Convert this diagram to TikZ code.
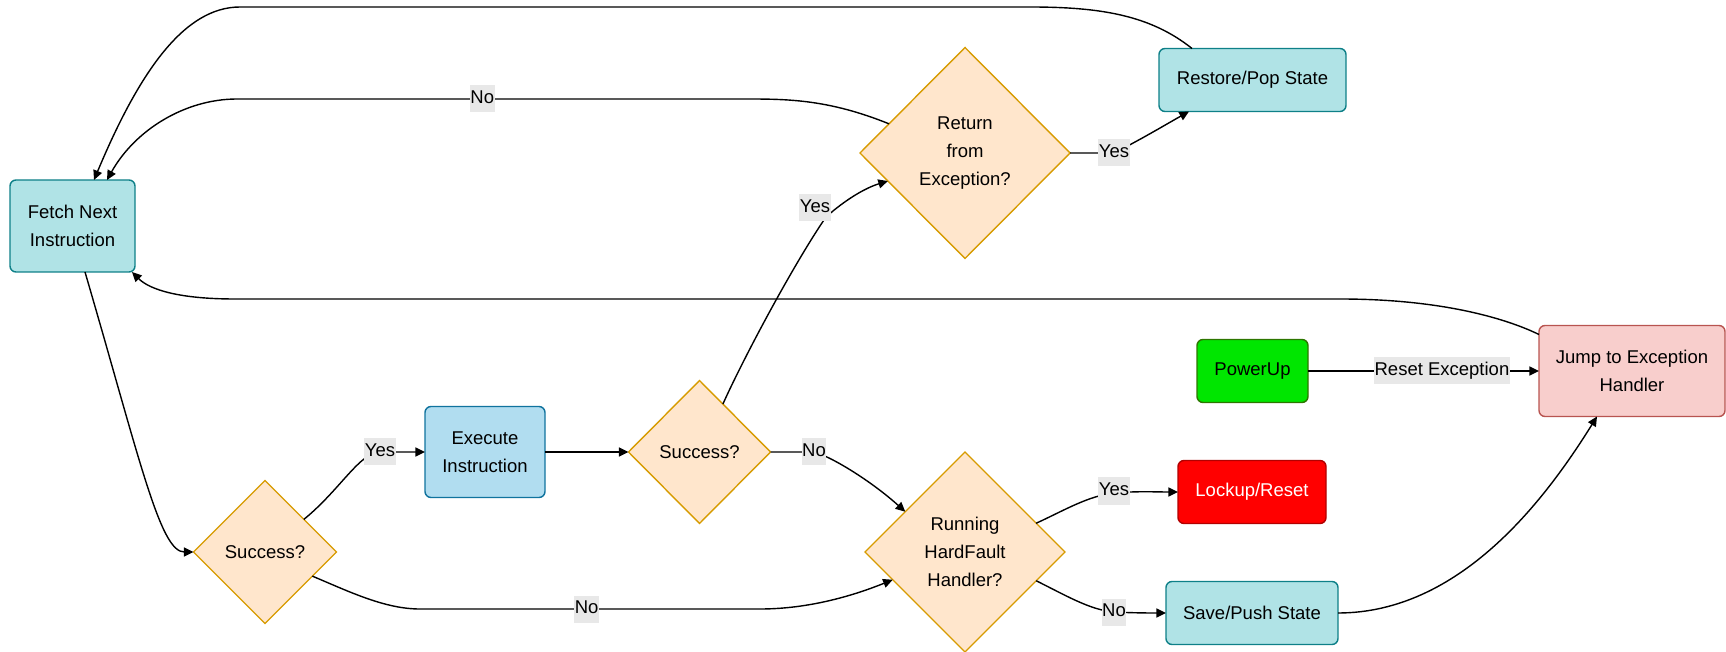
\documentclass[tikz,border=0pt]{standalone}
\usepackage{fontspec}
\setmainfont{Liberation Sans}
\usetikzlibrary{arrows.meta,shapes.geometric,calc}
\definecolor{tealF}{HTML}{B0E3E6}\definecolor{tealS}{HTML}{0E8088}
\definecolor{blueF}{HTML}{B1DDF0}\definecolor{blueS}{HTML}{10739E}
\definecolor{orgF}{HTML}{FFE6CC}\definecolor{orgS}{HTML}{D79B00}
\definecolor{grnF}{HTML}{00E600}\definecolor{grnS}{HTML}{2D7600}
\definecolor{redF}{HTML}{FF0000}\definecolor{redS}{HTML}{B20000}
\definecolor{pinkF}{HTML}{F8CECC}\definecolor{pinkS}{HTML}{B85450}
\definecolor{lblbg}{HTML}{E8E8E8}
\tikzset{
  base/.style={font=\fontsize{9.25}{14}\selectfont, align=center, inner sep=0pt, outer sep=0pt, line width=0.7pt},
  box/.style={base, draw, rounded corners=3pt},
  tealbox/.style={box, fill=tealF, draw=tealS},
  bluebox/.style={box, fill=blueF, draw=blueS},
  greenbox/.style={box, fill=grnF, draw=grnS},
  redbox/.style={box, fill=redF, draw=redS, text=white},
  pinkbox/.style={box, fill=pinkF, draw=pinkS},
  decision/.style={base, diamond, draw=orgS, fill=orgF},
  conn/.style={line width=0.7pt, draw=black},
  arr/.style={conn, -{Triangle[length=4.8pt,width=4.5pt]}},
  lbl/.style={font=\fontsize{9.25}{14}\selectfont, fill=lblbg, inner xsep=0.3pt, inner ysep=0pt, text height=9pt, text depth=4.5pt, outer sep=0pt}
}
\begin{document}
\begin{tikzpicture}[x=0.5pt,y=-0.5pt]
\useasboundingbox (0,0) rectangle (1726,652);
% nodes
\node[tealbox, minimum width=62.5pt, minimum height=46pt] (fetch) at (72.5,226) {Fetch Next\\Instruction};
\node[tealbox, minimum width=93.5pt, minimum height=31.5pt] (rs) at (1252.5,80) {Restore/Pop State};
\node[decision, minimum width=105pt, minimum height=105.5pt] (ret) at (965,153) {Return\\from\\Exception?};
\node[bluebox, minimum width=60pt, minimum height=45.5pt] (ex) at (485,452) {Execute\\Instruction};
\node[decision, minimum width=71pt, minimum height=71.5pt] (s2) at (699.5,452) {Success?};
\node[decision, minimum width=71.5pt, minimum height=71.5pt] (s1) at (265,552) {Success?};
\node[greenbox, minimum width=55.5pt, minimum height=31.5pt] (pu) at (1252.5,371) {PowerUp};
\node[pinkbox, minimum width=93pt, minimum height=45.5pt] (jump) at (1632,371) {Jump to Exception\\Handler};
\node[redbox, minimum width=74pt, minimum height=31.5pt] (lock) at (1252,492) {Lockup/Reset};
\node[tealbox, minimum width=86pt, minimum height=31.5pt] (save) at (1252,613) {Save/Push State};
\node[decision, minimum width=100pt, minimum height=100pt] (run) at (965,552) {Running\\HardFault\\Handler?};
% connectors
\draw[arr] ($(rs.north west)+(33,0)$) .. controls (1150,15) and (1100,7) .. (1030,7) -- (240,7) .. controls (185,7) and (140,70) .. ($(fetch.north west)+(84,0)$);
\draw[arr] (ret.159) .. controls (830,100) and (790,99) .. (748,99) -- node[lbl,pos=0.52] (lno1) {No} (237,99) .. controls (185,99) and (135,130) .. ($(fetch.north west)+(97,0)$);
\draw[arr] ($(fetch.south west)+(75,0)$) .. controls (140,460) and (160,552) .. (s1.west);
\draw[arr] (s1.40) .. controls (340,490) and (360,452) .. (380,452) node[lbl] (lyes1) {Yes} -- (ex.west);
\draw[arr] (ex.east) -- (s2.west);
\draw[arr] (s2.64) .. controls (745,355) and (795,262) .. (826,217) node[lbl,xshift=-5.5pt,yshift=4.5pt] (lyes2) {Yes} .. controls (845,200) and (865,188) .. (ret.200);
\draw[arr] (s2.east) .. controls (785,452) and (800,452) .. (814,452) node[lbl] (lno2) {No} .. controls (830,456) and (870,480) .. (run.146);
\draw[arr] (s1.333) .. controls (350,592) and (385,609) .. (420,609) -- node[lbl,pos=0.49] (lno3) {No} (760,609) .. controls (810,609) and (855,595) .. (run.201);
\draw[arr] (run.22) .. controls (1065,510) and (1088,496) .. (1114,493) node[lbl,yshift=1pt] (lyes3) {Yes} .. controls (1138,491) and (1155,492) .. (lock.west);
\draw[arr] (run.338) .. controls (1065,595) and (1090,610) .. (1114,612) node[lbl] (lno4) {No} .. controls (1135,613) and (1150,613) .. (save.west);
\draw[arr] (save.east) .. controls (1460,613) and (1545,500) .. ($(jump.south)+(-35,0)$);
\draw[arr] ($(jump.north west)+(0,9)$) .. controls (1505,318) and (1440,299) .. (1340,299) -- (235,299) .. controls (180,299) and (150,290) .. ($(fetch.south east)+(-3,0)$);
\draw[arr] (pu.east) -- node[lbl,pos=0.58] (lreset) {Reset Exception} (jump.west);
\draw[arr] (ret.east) .. controls (1088,153) and (1100,153) .. (1114,153) node[lbl] (lyes4) {Yes} .. controls (1140,140) and (1165,125) .. ($(rs.south west)+(30,0)$);
\end{tikzpicture}
\end{document}
